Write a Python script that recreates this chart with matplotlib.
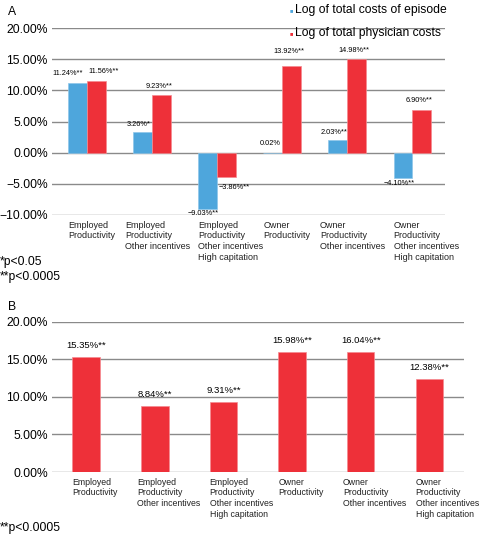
import numpy as np
import matplotlib.pyplot as plt

plt.rcParams['font.family'] = ['Liberation Sans', 'DejaVu Sans']

# 数据
categories_a = ['Employed\nProductivity',
                'Employed\nProductivity\nOther incentives',
                'Employed\nProductivity\nOther incentives\nHigh capitation',
                'Owner\nProductivity',
                'Owner\nProductivity\nOther incentives',
                'Owner\nProductivity\nOther incentives\nHigh capitation']
episode_costs = [11.24, 3.26, -9.03, 0.02, 2.03, -4.10]
episode_labels = ['11.24%**', '3.26%*', '\u22129.03%**', '0.02%', '2.03%**', '\u22124.10%**']
physician_costs = [11.56, 9.23, -3.86, 13.92, 14.98, 6.90]
physician_labels = ['11.56%**', '9.23%**', '\u22123.86%**', '13.92%**', '14.98%**', '6.90%**']

categories_b = list(categories_a)
values_b = [15.35, 8.84, 9.31, 15.98, 16.04, 12.38]
labels_b = ['15.35%**', '8.84%**', '9.31%**', '15.98%**', '16.04%**', '12.38%**']

blue = '#4ea6dc'
red = '#ee3039'
grid_color = '#8a8a8a'
tick_fs = 8.7


def pct_fmt(v):
    s = f'{abs(v):.2f}%'
    return ('\u2212' + s) if v < 0 else s


def style_axes(ax, ticks):
    ax.set_yticks(ticks)
    ax.set_yticklabels([pct_fmt(t) for t in ticks], fontsize=tick_fs)
    for s in ax.spines.values():
        s.set_visible(False)
    ax.tick_params(axis='y', length=0, pad=3)
    ax.tick_params(axis='x', length=0, labelbottom=False)
    for t in ticks:
        ax.axhline(t, color=grid_color, lw=1.0, zorder=0)


fig = plt.figure(figsize=(4.8, 5.34), dpi=100)

# ---- 面板 A ----
ax1 = fig.add_axes([0.108, 0.5974, 0.819, 0.350])
x = np.arange(len(categories_a))
w = 0.29
ax1.bar(x - w / 2, episode_costs, w, color=blue, edgecolor='#8fc6ea', lw=0.5, zorder=2)
ax1.bar(x + w / 2, physician_costs, w, color=red, edgecolor='#f58a90', lw=0.5, zorder=2)
ax1.set_xlim(-0.54, 5.5)
ax1.set_ylim(-10, 20)
style_axes(ax1, [-10, -5, 0, 5, 10, 15, 20])

lab_fs = 5.3
for i in range(len(x)):
    v = episode_costs[i]
    if i == 3:
        ax1.annotate(episode_labels[i], (x[i], 0), xytext=(-1, 4), textcoords='offset points',
                     ha='right', va='bottom', fontsize=lab_fs)
    elif i == 0:
        ax1.annotate(episode_labels[i], (x[i] - w, v), xytext=(0, 4), textcoords='offset points',
                     ha='center', va='bottom', fontsize=lab_fs)
    elif v >= 0:
        ax1.annotate(episode_labels[i], (x[i] - w / 2, v), xytext=(-3, 3), textcoords='offset points',
                     ha='center', va='bottom', fontsize=lab_fs)
    else:
        ax1.annotate(episode_labels[i], (x[i] - w / 2, v), xytext=(-3, -1), textcoords='offset points',
                     ha='center', va='top', fontsize=lab_fs)
for i in range(len(x)):
    v = physician_costs[i]
    dx = 5 if i == 0 else -2
    dy = 8 if i == 3 else 4
    if v >= 0:
        ax1.annotate(physician_labels[i], (x[i] + w / 2, v), xytext=(dx, dy), textcoords='offset points',
                     ha='center', va='bottom', fontsize=lab_fs)
    else:
        ax1.annotate(physician_labels[i], (x[i], v), xytext=(1, -5), textcoords='offset points',
                     ha='left', va='top', fontsize=lab_fs)

for i, c in enumerate(categories_a):
    dx = -6 if i in (1, 4) else 0
    ax1.annotate(c, (x[i] - w, -10), xytext=(dx, -4), textcoords='offset points',
                 ha='left', va='top', fontsize=6.5, linespacing=1.25, color='#222222')

fig.text(0.017, 0.977, 'A', fontsize=tick_fs, ha='left', va='center')
fig.text(0.0, 0.509, '*p<0.05', fontsize=tick_fs, ha='left', va='center')
fig.text(0.0, 0.481, '**p<0.0005', fontsize=tick_fs, ha='left', va='center')

# 图例
fig.text(0.604, 0.981, '\u25a0', color=blue, fontsize=4, ha='left', va='center')
fig.text(0.615, 0.981, 'Log of total costs of episode', fontsize=tick_fs, ha='left', va='center')
fig.text(0.604, 0.938, '\u25a0', color=red, fontsize=4, ha='left', va='center')
fig.text(0.615, 0.938, 'Log of total physician costs', fontsize=tick_fs, ha='left', va='center')

# ---- 面板 B ----
ax2 = fig.add_axes([0.108, 0.1161, 0.858, 0.281])
xb = np.arange(len(categories_b))
wb = 0.4
ax2.bar(xb, values_b, wb, color=red, edgecolor='#f58a90', lw=0.5, zorder=2)
ax2.set_xlim(-0.5, 5.5)
ax2.set_ylim(0, 20)
style_axes(ax2, [0, 5, 10, 15, 20])
for i in range(len(xb)):
    ax2.annotate(labels_b[i], (xb[i], values_b[i]), xytext=(0, 5), textcoords='offset points',
                 ha='center', va='bottom', fontsize=6.8)
for i, c in enumerate(categories_b):
    dx = -3 if i in (1, 4) else 0
    ax2.annotate(c, (xb[i] - wb / 2, 0), xytext=(dx, -4), textcoords='offset points',
                 ha='left', va='top', fontsize=6.3, linespacing=1.25, color='#222222')

fig.text(0.017, 0.425, 'B', fontsize=tick_fs, ha='left', va='center')
fig.text(0.0, 0.012, '**p<0.0005', fontsize=tick_fs, ha='left', va='center')

fig.savefig('out.png', dpi=100)
